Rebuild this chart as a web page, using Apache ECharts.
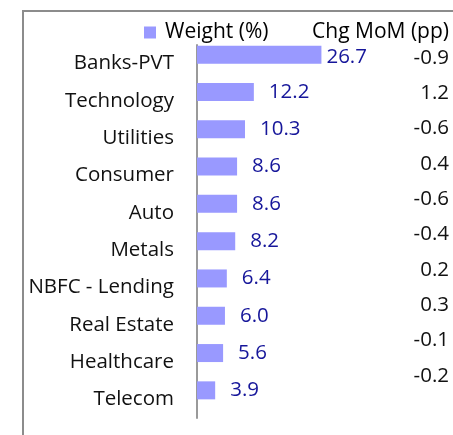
<!DOCTYPE html>
<html>
<head>
<meta charset="utf-8">
<script src="https://cdn.jsdelivr.net/npm/echarts@6/dist/echarts.min.js"></script>
<style>
  html, body { margin: 0; padding: 0; background: #ffffff; }
  #chart { width: 453px; height: 435px; }
</style>
</head>
<body>
<div id="chart"></div>
<script>
// Sector weights and month-on-month change
var sectors = ['Banks-PVT', 'Technology', 'Utilities', 'Consumer', 'Auto',
               'Metals', 'NBFC - Lending', 'Real Estate', 'Healthcare', 'Telecom'];
var weightPct = [26.7, 12.2, 10.3, 8.6, 8.6, 8.2, 6.4, 6.0, 5.6, 3.9];
var chgMoMpp = [-0.9, 1.2, -0.6, 0.4, -0.6, -0.4, 0.2, 0.3, -0.1, -0.2];

var FONT = 'Open Sans';
var chart = echarts.init(document.getElementById('chart'), null, { renderer: 'canvas' });

var weightData = weightPct.map(function (v, i) {
  // the largest bar keeps its label tucked close to the bar end, a touch lower
  return i === 0 ? { value: v, label: { distance: 5, offset: [0, 3] } } : v;
});

chart.setOption({
  backgroundColor: '#ffffff',
  animation: false,
  textStyle: { fontFamily: FONT },
  title: {
    text: 'Chg MoM (pp)',
    right: 4,
    top: 22,
    padding: 0,
    textStyle: { fontFamily: FONT, fontSize: 21, fontWeight: 'normal', color: '#000000' }
  },
  legend: {
    data: ['Weight (%)'],
    left: 144,
    top: 22,
    padding: 0,
    icon: 'rect',
    itemWidth: 12,
    itemHeight: 12,
    textStyle: { fontFamily: FONT, fontSize: 21, color: '#000000', padding: [0, 0, 0, 4] }
  },
  graphic: [{
    type: 'rect',
    shape: { x: 23, y: 11, width: 520, height: 520 },
    style: { fill: 'none', stroke: '#8c8c8c', lineWidth: 2 },
    silent: true
  }],
  grid: [
    { left: 197, top: 45, width: 233, height: 373, containLabel: false },
    { left: 449, top: 40.3, width: 1, height: 353.3, containLabel: false }
  ],
  xAxis: [
    { gridIndex: 0, type: 'value', min: 0, max: 50, show: false },
    { gridIndex: 1, type: 'value', min: 0, max: 1, show: false }
  ],
  yAxis: [
    {
      gridIndex: 0,
      type: 'category',
      inverse: true,
      data: sectors,
      axisLine: { show: true, lineStyle: { color: '#9a9a9a', width: 2 } },
      axisTick: { show: false },
      splitLine: { show: false },
      axisLabel: {
        interval: 0,
        margin: 23,
        fontFamily: FONT,
        fontSize: 20.5,
        color: '#111111'
      }
    },
    {
      gridIndex: 1,
      type: 'category',
      inverse: true,
      data: sectors,
      axisLine: { show: false },
      axisTick: { show: false },
      splitLine: { show: false },
      axisLabel: {
        interval: 0,
        margin: 0,
        fontFamily: FONT,
        fontSize: 20.5,
        color: '#111111',
        formatter: function (v, i) { return chgMoMpp[i].toFixed(1); }
      }
    }
  ],
  series: [
    {
      name: 'Weight (%)',
      type: 'bar',
      xAxisIndex: 0,
      yAxisIndex: 0,
      data: weightData,
      barWidth: 18,
      barGap: '0%',
      itemStyle: { color: '#9999ff' },
      label: {
        show: true,
        position: 'right',
        distance: 15,
        fontFamily: FONT,
        fontSize: 20.5,
        color: '#16169a',
        formatter: function (p) { return Number(p.value).toFixed(1); }
      }
    },
    {
      // empty companion slot so the weight bars sit in the upper half of each row
      name: 'slot',
      type: 'bar',
      xAxisIndex: 0,
      yAxisIndex: 0,
      data: sectors.map(function () { return '-'; }),
      barWidth: 18,
      barGap: '0%',
      itemStyle: { color: 'transparent' },
      silent: true
    }
  ]
});
</script>
</body>
</html>
